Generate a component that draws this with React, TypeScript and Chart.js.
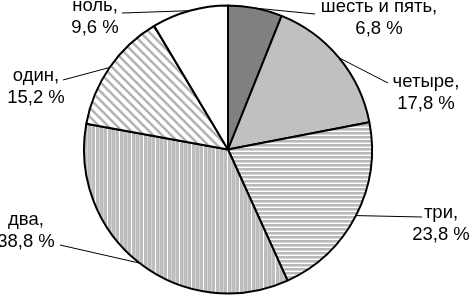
import React, { useEffect, useRef } from "react";
import { Chart, registerables } from "chart.js";

Chart.register(...registerables);

// Data
const categories = ["шесть и пять", "четыре", "три", "два", "один", "ноль"];
const values = [6.8, 17.8, 23.8, 38.8, 15.2, 9.6];
const valueLabels = ["6,8 %", "17,8 %", "23,8 %", "38,8 %", "15,2 %", "9,6 %"];

// Label layout (annotation positions, not data)
const labelCenterX = [379, 426, 441, 26, 36, 95];
const labelBaseline = [12, 87, 218, 225, 81, 11];
const leaderEndX = [315, 388, 422, 60, 63, 122];
const leaderEndY = [14, 83, 217, 245, 80, 13];

function makePattern(kind: string): CanvasPattern | string {
  const c = document.createElement("canvas");
  const ctx = c.getContext("2d");
  if (!ctx) return "#ccc";
  if (kind === "h") {
    c.width = 4; c.height = 4;
    ctx.fillStyle = "#fff"; ctx.fillRect(0, 0, 4, 4);
    ctx.fillStyle = "#b9b9b9"; ctx.fillRect(0, 0, 4, 2);
    ctx.fillStyle = "#d6d6d6"; ctx.fillRect(0, 2, 4, 1);
  } else if (kind === "v") {
    c.width = 12; c.height = 4;
    ctx.fillStyle = "#bdbdbd"; ctx.fillRect(0, 0, 12, 4);
    ctx.fillStyle = "#d3d3d3"; ctx.fillRect(3, 0, 1, 4); ctx.fillRect(7, 0, 1, 4);
    ctx.fillStyle = "#ffffff"; ctx.fillRect(11, 0, 1, 4);
  } else {
    const s = 9;
    c.width = s; c.height = s;
    ctx.fillStyle = "#fff"; ctx.fillRect(0, 0, s, s);
    ctx.strokeStyle = "#b3b3b3"; ctx.lineWidth = 2.6;
    for (const o of [-s, 0, s]) {
      ctx.beginPath(); ctx.moveTo(o - 1, -1); ctx.lineTo(o + s + 1, s + 1); ctx.stroke();
    }
  }
  const p = ctx.createPattern(c, "repeat");
  return p || "#ccc";
}

const FONT = '18.5px "Liberation Sans", Arial, sans-serif';

const labelPlugin = {
  id: "pieLabels",
  afterDatasetsDraw(chart: any) {
    const ctx = chart.ctx as CanvasRenderingContext2D;
    const meta = chart.getDatasetMeta(0);
    ctx.save();
    meta.data.forEach((arc: any, i: number) => {
      const { x, y, startAngle, endAngle, outerRadius } = arc.getProps(
        ["x", "y", "startAngle", "endAngle", "outerRadius"], true);
      const mid = (startAngle + endAngle) / 2;
      const ax = x + Math.cos(mid) * outerRadius;
      const ay = y + Math.sin(mid) * outerRadius;
      ctx.strokeStyle = "#000";
      ctx.lineWidth = 1;
      ctx.beginPath();
      ctx.moveTo(ax, ay);
      ctx.lineTo(leaderEndX[i], leaderEndY[i]);
      ctx.stroke();
      ctx.fillStyle = "#000";
      ctx.font = FONT;
      ctx.textAlign = "center";
      ctx.textBaseline = "alphabetic";
      ctx.fillText(categories[i] + ",", labelCenterX[i], labelBaseline[i]);
      ctx.fillText(valueLabels[i], labelCenterX[i], labelBaseline[i] + 22);
    });
    ctx.restore();
  },
};

export default function App() {
  const ref = useRef<HTMLCanvasElement | null>(null);
  useEffect(() => {
    if (!ref.current) return;
    const colors = ["#808080", "#c0c0c0", makePattern("h"), makePattern("v"), makePattern("d"), "#ffffff"];
    const chart = new Chart(ref.current, {
      type: "pie",
      data: {
        labels: categories,
        datasets: [{
          data: values,
          backgroundColor: colors as any,
          borderColor: "#000",
          borderWidth: 2,
        }],
      },
      options: {
        responsive: false,
        animation: false,
        layout: { padding: { left: 83, right: 98, top: 4, bottom: 2 } },
        plugins: { legend: { display: false }, tooltip: { enabled: false } },
      },
      plugins: [labelPlugin],
    });
    return () => chart.destroy();
  }, []);
  return (
    <div style={{ position: "fixed", left: 0, top: 0, width: 471, height: 297, background: "#fff" }}>
      <canvas ref={ref} width={471} height={297} />
    </div>
  );
}
